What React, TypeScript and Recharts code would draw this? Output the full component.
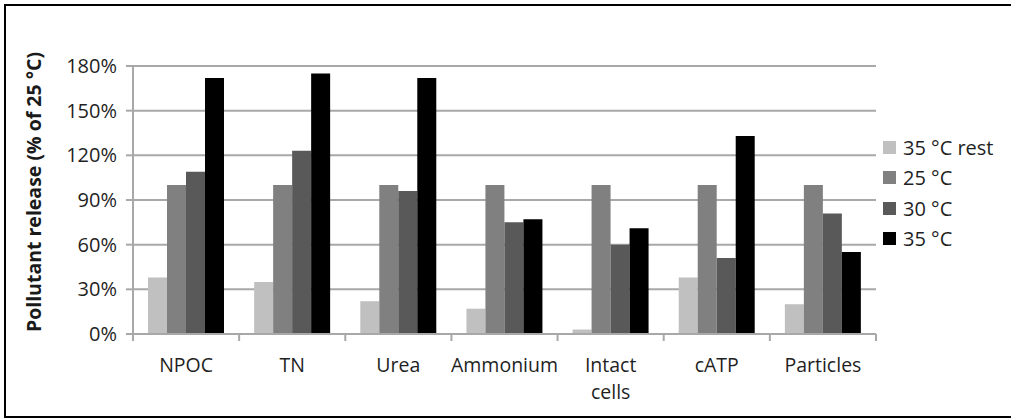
import { Bar, BarChart, CartesianGrid, Legend, Text, XAxis, YAxis } from "recharts";

const categories = ["NPOC", "TN", "Urea", "Ammonium", "Intact cells", "cATP", "Particles"];
const rest35 = [38, 35, 22, 17, 3, 38, 20];
const c25 = [100, 100, 100, 100, 100, 100, 100];
const c30 = [109, 123, 96, 75, 60, 51, 81];
const c35 = [172, 175, 172, 77, 71, 133, 55];
const yTicks = [0, 30, 60, 90, 120, 150, 180];

const seriesNames = ["35 °C rest", "25 °C", "30 °C", "35 °C"];
const seriesKeys = ["rest35", "c25", "c30", "c35"];
const seriesColors = ["#c0c0c0", "#808080", "#595959", "#000000"];

const data = categories.map((name, i) => ({
  name,
  rest35: rest35[i],
  c25: c25[i],
  c30: c30[i],
  c35: c35[i],
}));

const FONT = "'Open Sans', sans-serif";
const GRID = "#a8a8a8";

const CategoryTick = (props: any) => {
  const { x, y, payload, width } = props;
  const band = width / categories.length;
  const left = x - band / 2;
  const isLast = payload.index === categories.length - 1;
  return (
    <g>
      <line x1={left} x2={left} y1={y - 8} y2={y - 1} stroke={GRID} strokeWidth={2} />
      {isLast && <line x1={left + band} x2={left + band} y1={y - 8} y2={y - 1} stroke={GRID} strokeWidth={2} />}
      <Text
        x={x}
        y={y + 16}
        width={70}
        textAnchor="middle"
        verticalAnchor="start"
        lineHeight={27}
        style={{ fontFamily: FONT, fontSize: 19.5 }}
        fill="#1f1f1f"
      >
        {payload.value}
      </Text>
    </g>
  );
};

const YLabel = (props: any) => {
  const vb = props.viewBox || { y: 66, height: 268 };
  const cy = vb.y + vb.height / 2 - 8;
  return (
    <text
      x={33}
      y={cy}
      transform={`rotate(-90, 33, ${cy})`}
      textAnchor="middle"
      dominantBaseline="central"
      style={{ fontFamily: FONT, fontSize: 19.5, fontWeight: 700 }}
      fill="#1a1a1a"
    >
      Pollutant release (% of 25 °C)
    </text>
  );
};

const LegendBox = () => (
  <div style={{ fontFamily: FONT, fontSize: 20, color: "#1f1f1f" }}>
    {seriesNames.map((n, i) => (
      <div key={n} style={{ display: "flex", alignItems: "center", height: 30.5 }}>
        <span style={{ width: 13, height: 13, background: seriesColors[i], marginRight: 7, display: "inline-block" }} />
        <span>{n}</span>
      </div>
    ))}
  </div>
);

export default function App() {
  return (
    <div style={{ position: "absolute", left: 0, top: 0, width: 1011, height: 418, background: "#fff", overflow: "hidden" }}>
      <div
        style={{
          position: "absolute",
          left: 4,
          top: 4,
          width: 1020,
          height: 410,
          borderLeft: "2px solid #000",
          borderTop: "2px solid #000",
          borderBottom: "2px solid #000",
        }}
      />
      <BarChart
        width={1011}
        height={418}
        data={data}
        margin={{ top: 66, right: 135, bottom: 24, left: 0 }}
        barGap={0}
        barSize={19}
      >
        <CartesianGrid vertical={false} stroke={GRID} strokeWidth={2} />
        <XAxis
          dataKey="name"
          height={60}
          stroke={GRID}
          strokeWidth={2}
          tickLine={false}
          interval={0}
          tick={<CategoryTick />}
        />
        <YAxis
          width={133}
          domain={[0, 180]}
          ticks={yTicks}
          tickFormatter={(v) => `${v}%`}
          stroke={GRID}
          strokeWidth={2}
          tickSize={7}
          tickMargin={9}
          tick={{ fill: "#1f1f1f", fontSize: 20, fontFamily: FONT }}
          label={<YLabel />}
        />
        <Legend
          layout="vertical"
          align="center"
          verticalAlign="middle"
          width={130}
          wrapperStyle={{ left: 883, top: 132 }}
          content={<LegendBox />}
        />
        {seriesKeys.map((k, i) => (
          <Bar key={k} dataKey={k} name={seriesNames[i]} fill={seriesColors[i]} isAnimationActive={false} />
        ))}
      </BarChart>
    </div>
  );
}
